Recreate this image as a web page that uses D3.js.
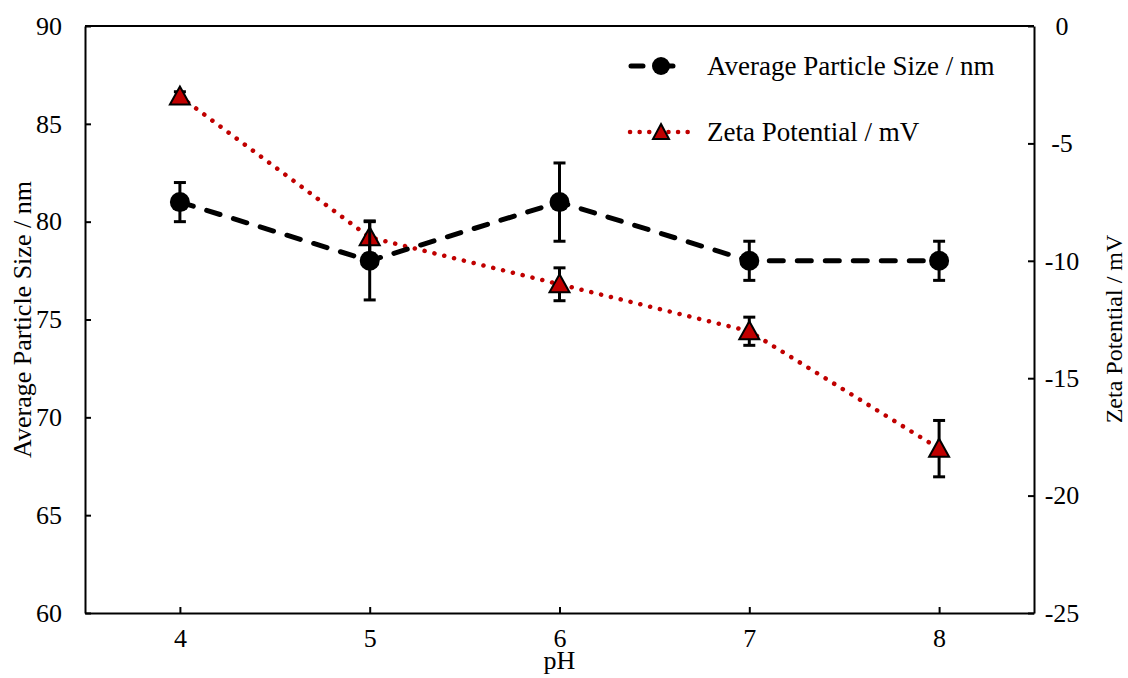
<!DOCTYPE html>
<html lang="en">
  <head>
    <meta charset="UTF-8" />
    <title>Particle size and zeta potential vs pH</title>
    <script src="https://d3js.org/d3.v7.min.js"></script>
    <style>
      body {
        margin: 0;
        background: #fff;
      }
      text {
        font-family: "Liberation Serif", "Times New Roman", serif;
        fill: #000;
      }
    </style>
  </head>
  <body>
    <script>
      // data
      var phValues = [4, 5, 6, 7, 8];
      var particleSize = [81, 78, 81, 78, 78];
      var particleErr = [1, 2, 2, 1, 1];
      var zetaPotential = [-3, -9, -11, -13, -18];
      var zetaErr = [0.2, 0.7, 0.7, 0.6, 1.2];
      var leftTicks = [60, 65, 70, 75, 80, 85, 90];
      var rightTicks = [-25, -20, -15, -10, -5, 0];

      var width = 1128,
        height = 678;
      var plot = { left: 85, right: 1034, top: 26, bottom: 613 };
      var fontSize = "26px";

      var svg = d3
        .select("body")
        .append("svg")
        .attr("width", width)
        .attr("height", height);

      // scales
      var x = d3.scaleLinear().domain([3.5, 8.5]).range([plot.left, plot.right]);
      var yLeft = d3.scaleLinear().domain([60, 90]).range([plot.bottom, plot.top]);
      var yRight = d3.scaleLinear().domain([-25, 0]).range([plot.bottom, plot.top]);

      // axes (ticks point inward)
      var xAxis = svg
        .append("g")
        .attr("transform", "translate(0," + plot.bottom + ")")
        .call(
          d3.axisBottom(x).tickValues(phValues).tickFormat(d3.format("d"))
            .tickSizeInner(-6).tickSizeOuter(0).tickPadding(16)
        );
      var leftAxis = svg
        .append("g")
        .attr("transform", "translate(" + plot.left + ",0)")
        .call(d3.axisLeft(yLeft).tickValues(leftTicks).tickSizeInner(-6).tickSizeOuter(0).tickPadding(23));
      var rightAxis = svg
        .append("g")
        .attr("transform", "translate(" + plot.right + ",0)")
        .call(
          d3.axisRight(yRight).tickValues(rightTicks)
            .tickFormat(function (d) { return String(d); })
            .tickSizeInner(-6).tickSizeOuter(0).tickPadding(28)
        );

      [xAxis, leftAxis, rightAxis].forEach(function (g) {
        g.attr("font-family", null).attr("font-size", null);
        g.selectAll("path, line").attr("stroke", "#000").attr("stroke-width", 2);
        g.selectAll("text").style("font-size", fontSize).attr("fill", "#000");
      });
      rightAxis.selectAll("text").attr("text-anchor", "middle");

      // top border
      svg
        .append("line")
        .attr("x1", plot.left)
        .attr("x2", plot.right)
        .attr("y1", plot.top)
        .attr("y2", plot.top)
        .attr("stroke", "#000")
        .attr("stroke-width", 2);

      // axis titles
      svg
        .append("text")
        .attr("x", x(6))
        .attr("y", 669)
        .attr("text-anchor", "middle")
        .style("font-size", fontSize)
        .text("pH");
      svg
        .append("text")
        .attr("transform", "translate(31," + (plot.top + plot.bottom) / 2 + ") rotate(-90)")
        .attr("text-anchor", "middle")
        .style("font-size", fontSize)
        .text("Average Particle Size / nm");
      svg
        .append("text")
        .attr("transform", "translate(1122,329) rotate(-90)")
        .attr("text-anchor", "middle")
        .style("font-size", "24px")
        .text("Zeta Potential / mV");

      var sizeData = phValues.map(function (p, i) {
        return { x: p, y: particleSize[i], e: particleErr[i] };
      });
      var zetaData = phValues.map(function (p, i) {
        return { x: p, y: zetaPotential[i], e: zetaErr[i] };
      });

      function errorBars(data, yScale) {
        var g = svg.append("g").attr("stroke", "#000").attr("stroke-width", 3);
        data.forEach(function (d) {
          var top = yScale(d.y + d.e),
            bot = yScale(d.y - d.e),
            cx = x(d.x);
          g.append("line").attr("x1", cx).attr("x2", cx).attr("y1", top).attr("y2", bot);
          g.append("line").attr("x1", cx - 6).attr("x2", cx + 6).attr("y1", top).attr("y2", top);
          g.append("line").attr("x1", cx - 6).attr("x2", cx + 6).attr("y1", bot).attr("y2", bot);
        });
      }

      var triangle = "M0,-11L10,7L-10,7Z";

      // zeta potential series (dotted red)
      svg
        .append("path")
        .datum(zetaData)
        .attr("fill", "none")
        .attr("stroke", "#c00000")
        .attr("stroke-width", 4.5)
        .attr("stroke-linecap", "round")
        .attr("stroke-dasharray", "0.1 10")
        .attr("d", d3.line().x(function (d) { return x(d.x); }).y(function (d) { return yRight(d.y); }));
      errorBars(zetaData, yRight);
      svg
        .selectAll(".tri")
        .data(zetaData)
        .enter()
        .append("path")
        .attr("class", "tri")
        .attr("d", triangle)
        .attr("transform", function (d) { return "translate(" + x(d.x) + "," + (yRight(d.y) + 1) + ")"; })
        .attr("fill", "#c00000")
        .attr("stroke", "#000")
        .attr("stroke-width", 2);

      // particle size series (dashed black)
      svg
        .append("path")
        .datum(sizeData)
        .attr("fill", "none")
        .attr("stroke", "#000")
        .attr("stroke-width", 5)
        .attr("stroke-linecap", "round")
        .attr("stroke-dasharray", "14 14")
        .attr("d", d3.line().x(function (d) { return x(d.x); }).y(function (d) { return yLeft(d.y); }));
      errorBars(sizeData, yLeft);
      svg
        .selectAll(".dot")
        .data(sizeData)
        .enter()
        .append("circle")
        .attr("class", "dot")
        .attr("cx", function (d) { return x(d.x); })
        .attr("cy", function (d) { return yLeft(d.y); })
        .attr("r", 10)
        .attr("fill", "#000");

      // legend
      var legend = svg.append("g");
      var ly1 = 66,
        ly2 = 132;
      legend
        .append("line")
        .attr("x1", 631).attr("x2", 691).attr("y1", ly1).attr("y2", ly1)
        .attr("stroke", "#000").attr("stroke-width", 5)
        .attr("stroke-linecap", "round").attr("stroke-dasharray", "12 18");
      legend.append("circle").attr("cx", 661).attr("cy", ly1).attr("r", 9).attr("fill", "#000");
      legend
        .append("text")
        .attr("x", 707).attr("y", ly1 + 9)
        .style("font-size", "27px")
        .text("Average Particle Size / nm");
      legend
        .append("line")
        .attr("x1", 630).attr("x2", 692).attr("y1", ly2).attr("y2", ly2)
        .attr("stroke", "#c00000").attr("stroke-width", 4.5)
        .attr("stroke-linecap", "round").attr("stroke-dasharray", "0.1 9.5");
      legend
        .append("path")
        .attr("d", "M0,-9L8,6L-8,6Z")
        .attr("transform", "translate(661," + (ly2 + 1) + ")")
        .attr("fill", "#c00000").attr("stroke", "#000").attr("stroke-width", 2);
      legend
        .append("text")
        .attr("x", 707).attr("y", ly2 + 9)
        .style("font-size", "27px")
        .text("Zeta Potential / mV");
    </script>
  </body>
</html>
